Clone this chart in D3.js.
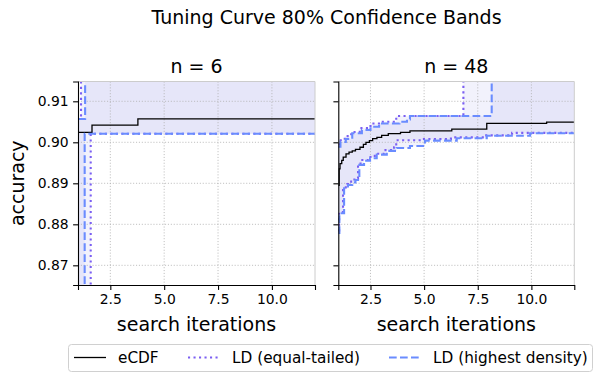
<!DOCTYPE html>
<html><head><meta charset="utf-8">
<script src="https://cdn.jsdelivr.net/npm/d3@7"></script>
<style>body{margin:0;background:#fff}svg{display:block}text{font-family:"DejaVu Sans",sans-serif;fill:#000}</style>
</head><body><svg id="c" width="602" height="381"></svg>
<script>
// ---- data ----
const titleText = "Tuning Curve 80% Confidence Bands";
const panelTitles = ["n = 6", "n = 48"];
const xTicks = [2.5, 5, 7.5, 10];
const yTicks = [0.87, 0.88, 0.89, 0.90, 0.91];
const legendLabels = ["eCDF", "LD (equal-tailed)", "LD (highest density)"];

// n = 6
const ecdf6X = [1, 1.65, 3.78, 12];
const ecdf6Y = [0.9024, 0.9042, 0.9057, 0.9057];
const etUp6X = [1, 1.14, 12];
const etUp6Y = [0.9057, 1.0, 1.0];
const etLo6X = [1, 1.59, 12];
const etLo6Y = [0.80, 0.9021, 0.9021];
const hdUp6X = [1, 1.33, 12];
const hdUp6Y = [0.9057, 1.0, 1.0];
const hdLo6X = [1, 1.31, 12];
const hdLo6Y = [0.80, 0.9021, 0.9021];

// n = 48
const ecdf48X = [1.00, 1.04, 1.08, 1.16, 1.23, 1.36, 1.50, 1.65, 1.80, 2.01, 2.17, 2.29, 2.45, 2.60, 2.80, 3.02, 3.33, 3.90, 4.34, 6.29, 7.92, 10.71, 12];
const ecdf48Y = [0.8895, 0.8935, 0.8948, 0.8956, 0.8964, 0.8972, 0.8976, 0.8979, 0.8983, 0.8988, 0.8995, 0.9000, 0.9004, 0.9009, 0.9012, 0.9017, 0.9021, 0.9024, 0.9028, 0.9032, 0.9046, 0.9049, 0.9049];
const hdLo48X = [1.00, 1.05, 1.27, 1.45, 1.65, 1.80, 1.98, 2.20, 2.48, 2.79, 3.26, 3.72, 4.34, 5.04, 6.52, 7.92, 9.94, 12];
const hdLo48Y = [0.8779, 0.8827, 0.8888, 0.8896, 0.8902, 0.8908, 0.8945, 0.8955, 0.8961, 0.8970, 0.8979, 0.8986, 0.8991, 0.9004, 0.9010, 0.9016, 0.9022, 0.9022];
const etLo48X = [1.00, 1.04, 1.22, 1.42, 1.60, 1.75, 1.92, 2.12, 2.40, 2.70, 3.15, 3.60, 3.70, 4.90, 6.25, 7.80, 9.10, 12];
const etLo48Y = [0.8785, 0.8830, 0.8890, 0.8898, 0.8904, 0.8912, 0.8948, 0.8957, 0.8964, 0.8972, 0.8981, 0.8988, 0.9005, 0.9008, 0.9012, 0.9017, 0.9023, 0.9023];
const hdUp48X = [1.00, 1.10, 1.35, 1.65, 2.10, 2.50, 2.90, 3.85, 4.20, 4.34, 8.15, 12];
const hdUp48Y = [0.8989, 0.9001, 0.9008, 0.9022, 0.9030, 0.9038, 0.9046, 0.9050, 0.9056, 0.9064, 1.0, 1.0];
const etUp48X = [1.00, 1.05, 1.30, 1.60, 2.00, 2.50, 3.00, 3.70, 6.83, 12];
const etUp48Y = [0.8995, 0.9005, 0.9015, 0.9025, 0.9035, 0.9046, 0.9050, 0.9064, 1.0, 1.0];

const panels = [
  {title: panelTitles[0], ecdf: [ecdf6X, ecdf6Y], etLo: [etLo6X, etLo6Y], etUp: [etUp6X, etUp6Y], hdLo: [hdLo6X, hdLo6Y], hdUp: [hdUp6X, hdUp6Y], left: 78, right: 315, yLabels: true},
  {title: panelTitles[1], ecdf: [ecdf48X, ecdf48Y], etLo: [etLo48X, etLo48Y], etUp: [etUp48X, etUp48Y], hdLo: [hdLo48X, hdLo48Y], hdUp: [hdUp48X, hdUp48Y], left: 338.3, right: 574.3, yLabels: false}
];

// ---- styles ----
const C_ET = "#7b5ff2", C_HD = "#6a8cff", C_FILL = "#5c5cde";
const axTop = 81.5, axBottom = 285;
const svg = d3.select("#c");
svg.append("rect").attr("width", 602).attr("height", 381).attr("fill", "#fff");

svg.append("text").attr("x", 326.5).attr("y", 24).attr("text-anchor", "middle")
  .style("font-size", "19px").text(titleText);

function stepVal(xs, ys, x) {
  let v = ys[0];
  for (let i = 0; i < xs.length; i++) if (xs[i] <= x) v = ys[i];
  return v;
}
function pts(xs, ys) { return xs.map((x, i) => [x, ys[i]]); }

panels.forEach((p, pi) => {
  const x = d3.scaleLinear().domain([1, 12]).range([p.left, p.right]);
  const y = d3.scaleLinear().domain([0.8652, 0.91483]).range([axBottom, axTop]);
  const g = svg.append("g");
  const clipId = "clip" + pi;
  svg.append("clipPath").attr("id", clipId).append("rect")
    .attr("x", p.left).attr("y", axTop).attr("width", p.right - p.left).attr("height", axBottom - axTop);
  const inner = g.append("g").attr("clip-path", `url(#${clipId})`);

  // fills
  [[p.etLo, p.etUp], [p.hdLo, p.hdUp]].forEach(([lo, up]) => {
    const xs = Array.from(new Set(lo[0].concat(up[0]))).sort((a, b) => a - b);
    const data = xs.map(xx => ({x: xx, y0: stepVal(lo[0], lo[1], xx), y1: stepVal(up[0], up[1], xx)}));
    inner.append("path").datum(data)
      .attr("d", d3.area().curve(d3.curveStepAfter).x(d => x(d.x)).y0(d => y(d.y0)).y1(d => y(d.y1)))
      .attr("fill", C_FILL).attr("fill-opacity", 0.08).attr("stroke", "none");
  });

  // grid
  inner.selectAll(".gx").data(xTicks).enter().append("line")
    .attr("x1", d => x(d)).attr("x2", d => x(d)).attr("y1", axTop).attr("y2", axBottom)
    .attr("stroke", "#b0b0b0").attr("stroke-width", 0.8).attr("stroke-dasharray", "1.1,1.8");
  inner.selectAll(".gy").data(yTicks).enter().append("line")
    .attr("y1", d => y(d)).attr("y2", d => y(d)).attr("x1", p.left).attr("x2", p.right)
    .attr("stroke", "#b0b0b0").attr("stroke-width", 0.8).attr("stroke-dasharray", "1.1,1.8");

  const line = d3.line().curve(d3.curveStepAfter).x(d => x(d[0])).y(d => y(d[1]));
  inner.append("path").datum(pts(...p.ecdf)).attr("d", line)
    .attr("fill", "none").attr("stroke", "#000").attr("stroke-width", 1.3);
  [p.etLo, p.etUp].forEach(s => inner.append("path").datum(pts(...s)).attr("d", line)
    .attr("fill", "none").attr("stroke", C_ET).attr("stroke-width", 2.1).attr("stroke-dasharray", "2.1,3.4"));
  [p.hdLo, p.hdUp].forEach(s => inner.append("path").datum(pts(...s)).attr("d", line)
    .attr("fill", "none").attr("stroke", C_HD).attr("stroke-width", 2.1).attr("stroke-dasharray", "7.7,3.3"));

  // spines
  g.append("line").attr("x1", p.left).attr("x2", p.right).attr("y1", axTop).attr("y2", axTop).attr("stroke", "#cccccc").attr("stroke-width", 1);
  g.append("line").attr("x1", p.right).attr("x2", p.right).attr("y1", axTop).attr("y2", axBottom).attr("stroke", "#cccccc").attr("stroke-width", 1);

  // axes
  const xAxis = d3.axisBottom(x).tickValues(xTicks).tickFormat(d3.format(".1f")).tickSizeOuter(0).tickSize(4.9).tickPadding(4.5);
  const ax = g.append("g").attr("transform", `translate(0,${axBottom})`).call(xAxis);
  const yAxis = d3.axisLeft(y).tickValues(yTicks).tickFormat(p.yLabels ? d3.format(".2f") : () => "").tickSizeOuter(0).tickSize(4.9).tickPadding(4.5);
  const ay = g.append("g").attr("transform", `translate(${p.left},0)`).call(yAxis);
  [ax, ay].forEach(a => {
    a.select(".domain").attr("stroke", "#000").attr("stroke-width", 1.1);
    a.selectAll(".tick line").attr("stroke", "#000").attr("stroke-width", 1.1);
    a.selectAll("text").style("font-size", "13.9px").style("font-family", "DejaVu Sans").attr("fill", "#000");
  });

  g.append("text").attr("x", (p.left + p.right) / 2).attr("y", 73).attr("text-anchor", "middle")
    .style("font-size", "19px").text(p.title);
  g.append("text").attr("x", (p.left + p.right) / 2).attr("y", 331).attr("text-anchor", "middle")
    .style("font-size", "19px").text("search iterations");
  if (p.yLabels) {
    g.append("text").attr("transform", `translate(23.5,${(axTop + axBottom) / 2}) rotate(-90)`)
      .attr("text-anchor", "middle").style("font-size", "19px").text("accuracy");
  }
});

// legend
const lg = svg.append("g");
lg.append("rect").attr("x", 68.5).attr("y", 344.5).attr("width", 524).attr("height", 27).attr("rx", 3)
  .attr("fill", "#fff").attr("stroke", "#d0d0d0").attr("stroke-width", 1);
const legendItems = [
  {label: legendLabels[0], x: 74, color: "#000", w: 1.3, dash: null},
  {label: legendLabels[1], x: 188, color: C_ET, w: 2.1, dash: "2.1,3.4"},
  {label: legendLabels[2], x: 389, color: C_HD, w: 2.1, dash: "7.7,3.3"}
];
legendItems.forEach(it => {
  const l = lg.append("line").attr("x1", it.x).attr("x2", it.x + 32).attr("y1", 357.5).attr("y2", 357.5)
    .attr("stroke", it.color).attr("stroke-width", it.w);
  if (it.dash) l.attr("stroke-dasharray", it.dash);
  lg.append("text").attr("x", it.x + 44).attr("y", 363).style("font-size", "15.3px").text(it.label);
});
</script></body></html>
